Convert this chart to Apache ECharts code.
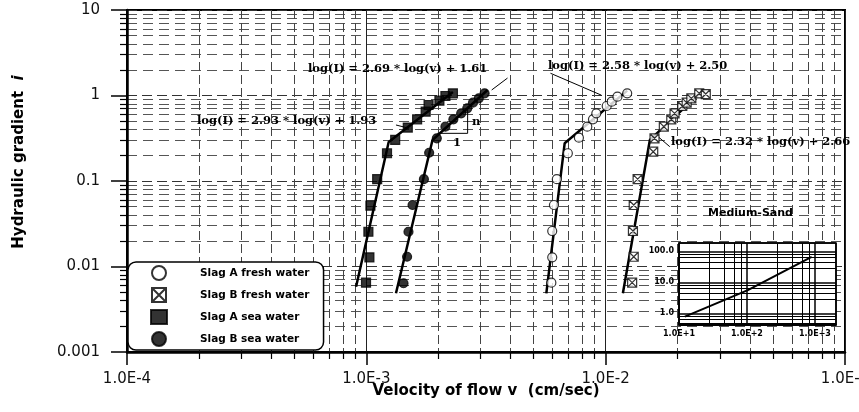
<!DOCTYPE html>
<html>
<head>
<meta charset="utf-8">
<script src="https://cdn.jsdelivr.net/npm/echarts@6/dist/echarts.min.js"></script>
<style>
  html, body { margin: 0; padding: 0; background: #fff; }
  #chart { width: 859px; height: 412px; }
</style>
</head>
<body>
<div id="chart"></div>
<script>
  // velocity of flow v (cm/sec) / hydraulic gradient i
  var slagAFreshV = [0.00593, 0.00598, 0.00598, 0.00608, 0.00625, 0.00695, 0.00773, 0.00838, 0.00885, 0.00914, 0.0101, 0.0106, 0.0112, 0.0123];
  var slagAFreshI = [0.00647, 0.0128, 0.026, 0.0524, 0.105, 0.211, 0.321, 0.432, 0.527, 0.619, 0.754, 0.846, 0.968, 1.06];
  var slagBFreshV = [0.0129, 0.0131, 0.0130, 0.0131, 0.0136, 0.0158, 0.0160, 0.0175, 0.0188, 0.0194, 0.0209, 0.0218, 0.0228, 0.0246, 0.0262];
  var slagBFreshI = [0.00647, 0.0130, 0.026, 0.0524, 0.105, 0.220, 0.316, 0.432, 0.527, 0.619, 0.754, 0.824, 0.927, 1.06, 1.04];
  var slagASeaV = [0.000997, 0.00103, 0.00102, 0.00104, 0.00111, 0.00122, 0.00132, 0.00149, 0.00163, 0.00177, 0.00182, 0.00202, 0.00214, 0.00230];
  var slagASeaI = [0.00647, 0.0128, 0.0255, 0.0514, 0.105, 0.211, 0.302, 0.422, 0.527, 0.647, 0.774, 0.869, 0.987, 1.06];
  var slagBSeaV = [0.00143, 0.00148, 0.00150, 0.00156, 0.00174, 0.00183, 0.00197, 0.00214, 0.00231, 0.00249, 0.00264, 0.00279, 0.00295, 0.00312];
  var slagBSeaI = [0.00637, 0.0130, 0.0255, 0.0524, 0.105, 0.214, 0.316, 0.432, 0.527, 0.619, 0.708, 0.824, 0.927, 1.06];

  // fitted two-part lines (bottom, knee, top)
  var fitASeaV = [0.000906, 0.00124, 0.00230];
  var fitASeaI = [0.00580, 0.286, 1.10];
  var fitBSeaV = [0.00133, 0.00189, 0.00321];
  var fitBSeaI = [0.00486, 0.302, 1.16];
  var fitAFreshV = [0.00565, 0.00674, 0.0123];
  var fitAFreshI = [0.00486, 0.276, 1.14];
  var fitBFreshV = [0.0118, 0.0153, 0.0256];
  var fitBFreshI = [0.00486, 0.302, 1.16];

  // leader lines and slope triangle
  var leader261V = [0.00334, 0.00389];
  var leader261I = [1.16, 1.60];
  var leader258V = [0.00588, 0.00959];
  var leader258I = [1.82, 1.01];
  var leader232V = [0.01656, 0.01853];
  var leader232I = [0.330, 0.252];
  var leader293V = [0.00133, 0.00151];
  var leader293I = [0.452, 0.413];
  var slopeV = [0.00198, 0.00265, 0.00265];
  var slopeI = [0.361, 0.361, 0.740];

  // inset: Medium-Sand
  var insetV = [12.2, 103, 894];
  var insetI = [0.78, 5.6, 67];

  var xTickLabels = ['1.0E-4', '1.0E-3', '1.0E-2', '1.0E-1'];
  var yTickLabels = ['0.001', '0.01', '0.1', '1', '10'];
  var insetXLabels = ['1.0E+1', '1.0E+2', '1.0E+3'];
  var insetYLabels = ['1.0', '10.0', '100.0'];

  var legendNames = ['Slag A fresh water', 'Slag B fresh water', 'Slag A sea water', 'Slag B sea water'];

  function pairs(xs, ys) {
    return xs.map(function (x, k) { return [x, ys[k]]; });
  }
  // label only the whole decades
  function decadeLabel(labels, firstExp) {
    return function (v) {
      var e = Math.log10(v), r = Math.round(e);
      if (Math.abs(e - r) > 1e-6) return '';
      return labels[r - firstExp] || '';
    };
  }

  var font = 'DejaVu Sans';
  var eqFont = 'bold 11.5px "DejaVu Serif"';

  function fitLine(xs, ys) {
    return {
      type: 'line', data: pairs(xs, ys), symbol: 'none', silent: true, z: 3,
      lineStyle: { color: '#000', width: 2.5 }
    };
  }
  function thinLine(xs, ys) {
    return {
      type: 'line', data: pairs(xs, ys), symbol: 'none', silent: true, z: 3,
      lineStyle: { color: '#000', width: 1 }
    };
  }
  function points(name, xs, ys, symbol, filled) {
    return {
      name: name, type: 'scatter', data: pairs(xs, ys), symbol: symbol, symbolSize: 9, z: 4,
      itemStyle: { color: filled ? '#000' : '#fff', borderColor: '#000', borderWidth: 1.2 }
    };
  }

  var myChart = echarts.init(document.getElementById('chart'));
  myChart.setOption({
    backgroundColor: '#fff',
    animation: false,
    grid: [
      { left: 127, right: 14, top: 10, bottom: 60, show: true, borderColor: '#000', borderWidth: 2, outerBoundsMode: 'none' },
      { left: 679, top: 243, width: 157, height: 82, show: true, backgroundColor: '#fff',
        borderColor: '#000', borderWidth: 1.5, z: 3, outerBoundsMode: 'none' }
    ],
    xAxis: [{
      type: 'log', gridIndex: 0, min: 0.0001, max: 0.1,
      name: 'Velocity of flow v  (cm/sec)', nameLocation: 'middle', nameGap: 32, nameMoveOverlap: false,
      nameTextStyle: { fontFamily: font, fontWeight: 'bold', fontSize: 15, color: '#000' },
      axisLine: { lineStyle: { color: '#000', width: 2.5 } },
      axisTick: { length: 13, lineStyle: { color: '#000', width: 1.5 } },
      minorTick: { show: true, splitNumber: 9, length: 7, lineStyle: { color: '#000', width: 1.2 } },
      axisLabel: { formatter: decadeLabel(xTickLabels, -4), fontFamily: font, fontSize: 15, color: '#111', margin: 20 },
      splitLine: { show: true, lineStyle: { color: '#222', width: 1 } },
      minorSplitLine: { show: true, lineStyle: { color: '#444', width: 1, type: [9, 4] } }
    }, {
      type: 'log', gridIndex: 1, min: 10, max: 2040, z: 3,
      axisLine: { lineStyle: { color: '#000', width: 1.5 } },
      axisTick: { show: false },
      axisLabel: { formatter: decadeLabel(insetXLabels, 1), fontFamily: font, fontWeight: 'bold', fontSize: 8, color: '#000', margin: 5 },
      splitLine: { show: true, lineStyle: { color: '#000', width: 1.5 } },
      minorSplitLine: { show: true, lineStyle: { color: '#000', width: 1 } }
    }],
    yAxis: [{
      type: 'log', gridIndex: 0, min: 0.001, max: 10,
      name: 'Hydraulic gradient  {it|i}', nameLocation: 'middle', nameGap: 100, nameMoveOverlap: false,
      nameTextStyle: {
        fontFamily: font, fontWeight: 'bold', fontSize: 15, color: '#000', padding: [0, 0, 0, 38],
        rich: { it: { fontFamily: font, fontWeight: 'bold', fontStyle: 'italic', fontSize: 15, color: '#000' } }
      },
      axisLine: { lineStyle: { color: '#000', width: 2.5 } },
      axisTick: { length: 16, lineStyle: { color: '#000', width: 1.5 } },
      minorTick: { show: true, splitNumber: 9, length: 7, lineStyle: { color: '#000', width: 1.2 } },
      axisLabel: { formatter: decadeLabel(yTickLabels, -3), fontFamily: font, fontSize: 15, color: '#111', margin: 27 },
      splitLine: { show: true, lineStyle: { color: '#333', width: 1, type: [10, 5] } },
      minorSplitLine: { show: true, lineStyle: { color: '#555', width: 1, type: [10, 6] } }
    }, {
      type: 'log', gridIndex: 1, min: 0.417, max: 187, z: 3,
      axisLine: { lineStyle: { color: '#000', width: 1.5 } },
      axisTick: { show: false },
      axisLabel: { formatter: decadeLabel(insetYLabels, 0), fontFamily: font, fontWeight: 'bold', fontSize: 8, color: '#000', margin: 5 },
      splitLine: { show: true, lineStyle: { color: '#000', width: 1.5 } },
      minorSplitLine: { show: true, lineStyle: { color: '#000', width: 1 } }
    }],
    legend: {
      data: legendNames,
      orient: 'vertical', left: 128, top: 262,
      itemWidth: 16, itemHeight: 14, itemGap: 6,
      padding: [3, 14, 3, 22],
      backgroundColor: '#fff', borderColor: '#000', borderWidth: 1.5, borderRadius: 8,
      selectedMode: false,
      textStyle: { fontFamily: font, fontWeight: 'bold', fontSize: 10.5, lineHeight: 14, color: '#000', padding: [0, 0, 0, 28] }
    },
    graphic: [
      { type: 'text', left: 308, top: 63, z: 10, style: { text: 'log(I) = 2.69 * log(v) + 1.61', font: eqFont, fill: '#000' } },
      { type: 'text', left: 197, top: 115, z: 10, style: { text: 'log(I) = 2.93 * log(v) + 1.93', font: eqFont, fill: '#000' } },
      { type: 'text', left: 548, top: 60, z: 10, style: { text: 'log(I) = 2.58 * log(v) + 2.50', font: eqFont, fill: '#000' } },
      { type: 'text', left: 671, top: 136, z: 10, style: { text: 'log(I) = 2.32 * log(v) + 2.66', font: eqFont, fill: '#000' } },
      { type: 'text', left: 472, top: 116, z: 10, style: { text: 'n', font: eqFont, fill: '#000' } },
      { type: 'text', left: 453, top: 137, z: 10, style: { text: '1', font: eqFont, fill: '#000' } },
      { type: 'text', left: 708, top: 208, z: 10, style: { text: 'Medium-Sand', font: 'bold 11px "DejaVu Sans"', fill: '#000' } }
    ],
    series: [
      fitLine(fitASeaV, fitASeaI),
      fitLine(fitBSeaV, fitBSeaI),
      fitLine(fitAFreshV, fitAFreshI),
      fitLine(fitBFreshV, fitBFreshI),
      thinLine(leader261V, leader261I),
      thinLine(leader258V, leader258I),
      thinLine(leader232V, leader232I),
      thinLine(leader293V, leader293I),
      thinLine(slopeV, slopeI),
      points('Slag A fresh water', slagAFreshV, slagAFreshI, 'circle', false),
      points('Slag B fresh water', slagBFreshV, slagBFreshI, 'path://M0,0H10V10H0Z M0,0L10,10 M10,0L0,10', false),
      points('Slag A sea water', slagASeaV, slagASeaI, 'rect', true),
      points('Slag B sea water', slagBSeaV, slagBSeaI, 'circle', true),
      {
        type: 'line', xAxisIndex: 1, yAxisIndex: 1, data: pairs(insetV, insetI), symbol: 'none', silent: true, z: 5,
        lineStyle: { color: '#000', width: 2 }
      }
    ]
  });
</script>
</body>
</html>
